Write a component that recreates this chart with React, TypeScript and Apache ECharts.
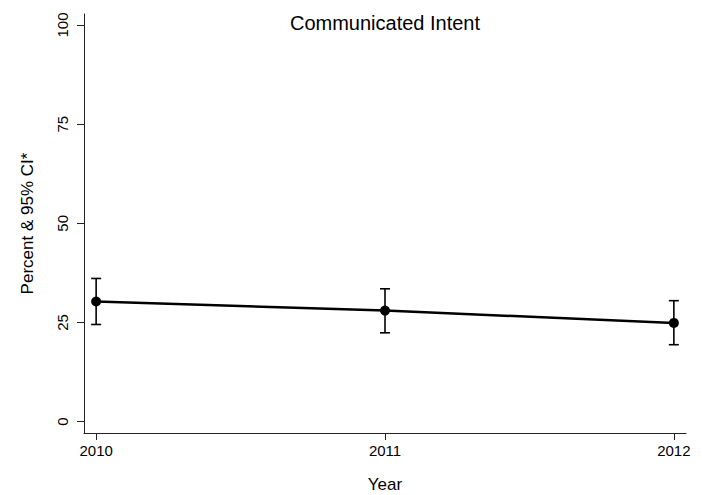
import React, { useEffect, useRef } from "react";
import * as echarts from "echarts";

const years = [2010, 2011, 2012];
const percent = [30.3, 28.0, 24.9];
const ciLow = [24.5, 22.4, 19.4];
const ciHigh = [36.1, 33.5, 30.5];
const yTicks = [0, 25, 50, 75, 100];

const FONT = "'Liberation Sans', Arial, Helvetica, sans-serif";

export default function App() {
  const ref = useRef<HTMLDivElement>(null);
  useEffect(() => {
    if (!ref.current) return;
    const chart = echarts.init(ref.current, null, { renderer: "svg" });
    const errData = years.map((y, i) => [y, ciLow[i], ciHigh[i]]);
    chart.setOption({
      animation: false,
      backgroundColor: "#ffffff",
      textStyle: { fontFamily: FONT },
      title: {
        text: "Communicated Intent",
        left: 385,
        top: 13,
        padding: 0,
        textAlign: "center",
        textStyle: { fontFamily: FONT, fontSize: 20, fontWeight: "normal", color: "#000" },
      },
      grid: { left: 84, right: 16, top: 14, bottom: 62, containLabel: false, outerBoundsMode: "none" },
      xAxis: {
        type: "value",
        min: 2009.958,
        max: 2012.042,
        name: "Year",
        nameLocation: "middle",
        nameGap: 43,
        nameTextStyle: { fontFamily: FONT, fontSize: 17, color: "#000", lineHeight: 17 },
        axisLine: { show: true, onZero: false, lineStyle: { color: "#222", width: 1 } },
        axisTick: { show: true, length: 7, customValues: years, lineStyle: { color: "#222" } },
        axisLabel: {
          customValues: years,
          formatter: (v: number) => String(Math.round(v)),
          fontFamily: FONT,
          fontSize: 15,
          color: "#000",
          margin: 10,
        },
        splitLine: { show: false },
      },
      yAxis: {
        type: "value",
        min: -2.86,
        max: 102.78,
        name: "Percent & 95% CI*",
        nameLocation: "middle",
        nameRotate: 90,
        nameGap: 48,
        nameTextStyle: { fontFamily: FONT, fontSize: 17, color: "#000" },
        axisLine: { show: true, onZero: false, lineStyle: { color: "#222", width: 1 } },
        axisTick: { show: true, length: 7, customValues: yTicks, lineStyle: { color: "#222" } },
        axisLabel: {
          customValues: yTicks,
          rotate: 90,
          fontFamily: FONT,
          fontSize: 15,
          color: "#000",
          margin: 14,
        },
        splitLine: { show: false },
      },
      series: [
        {
          type: "custom",
          data: errData,
          z: 3,
          renderItem: (params: any, api: any) => {
            const x = api.value(0);
            const lo = api.coord([x, api.value(1)]);
            const hi = api.coord([x, api.value(2)]);
            const hw = 5;
            const style = { stroke: "#000", lineWidth: 1.6 };
            return {
              type: "group",
              children: [
                { type: "line", shape: { x1: lo[0], y1: lo[1], x2: hi[0], y2: hi[1] }, style },
                { type: "line", shape: { x1: hi[0] - hw, y1: hi[1], x2: hi[0] + hw, y2: hi[1] }, style },
                { type: "line", shape: { x1: lo[0] - hw, y1: lo[1], x2: lo[0] + hw, y2: lo[1] }, style },
              ],
            };
          },
        },
        {
          type: "line",
          data: years.map((y, i) => [y, percent[i]]),
          z: 4,
          symbol: "circle",
          symbolSize: 10,
          lineStyle: { color: "#000", width: 2.5 },
          itemStyle: { color: "#000" },
        },
      ],
    });
    return () => chart.dispose();
  }, []);
  return <div ref={ref} style={{ width: 702, height: 495, position: "absolute", left: 0, top: 0 }} />;
}
